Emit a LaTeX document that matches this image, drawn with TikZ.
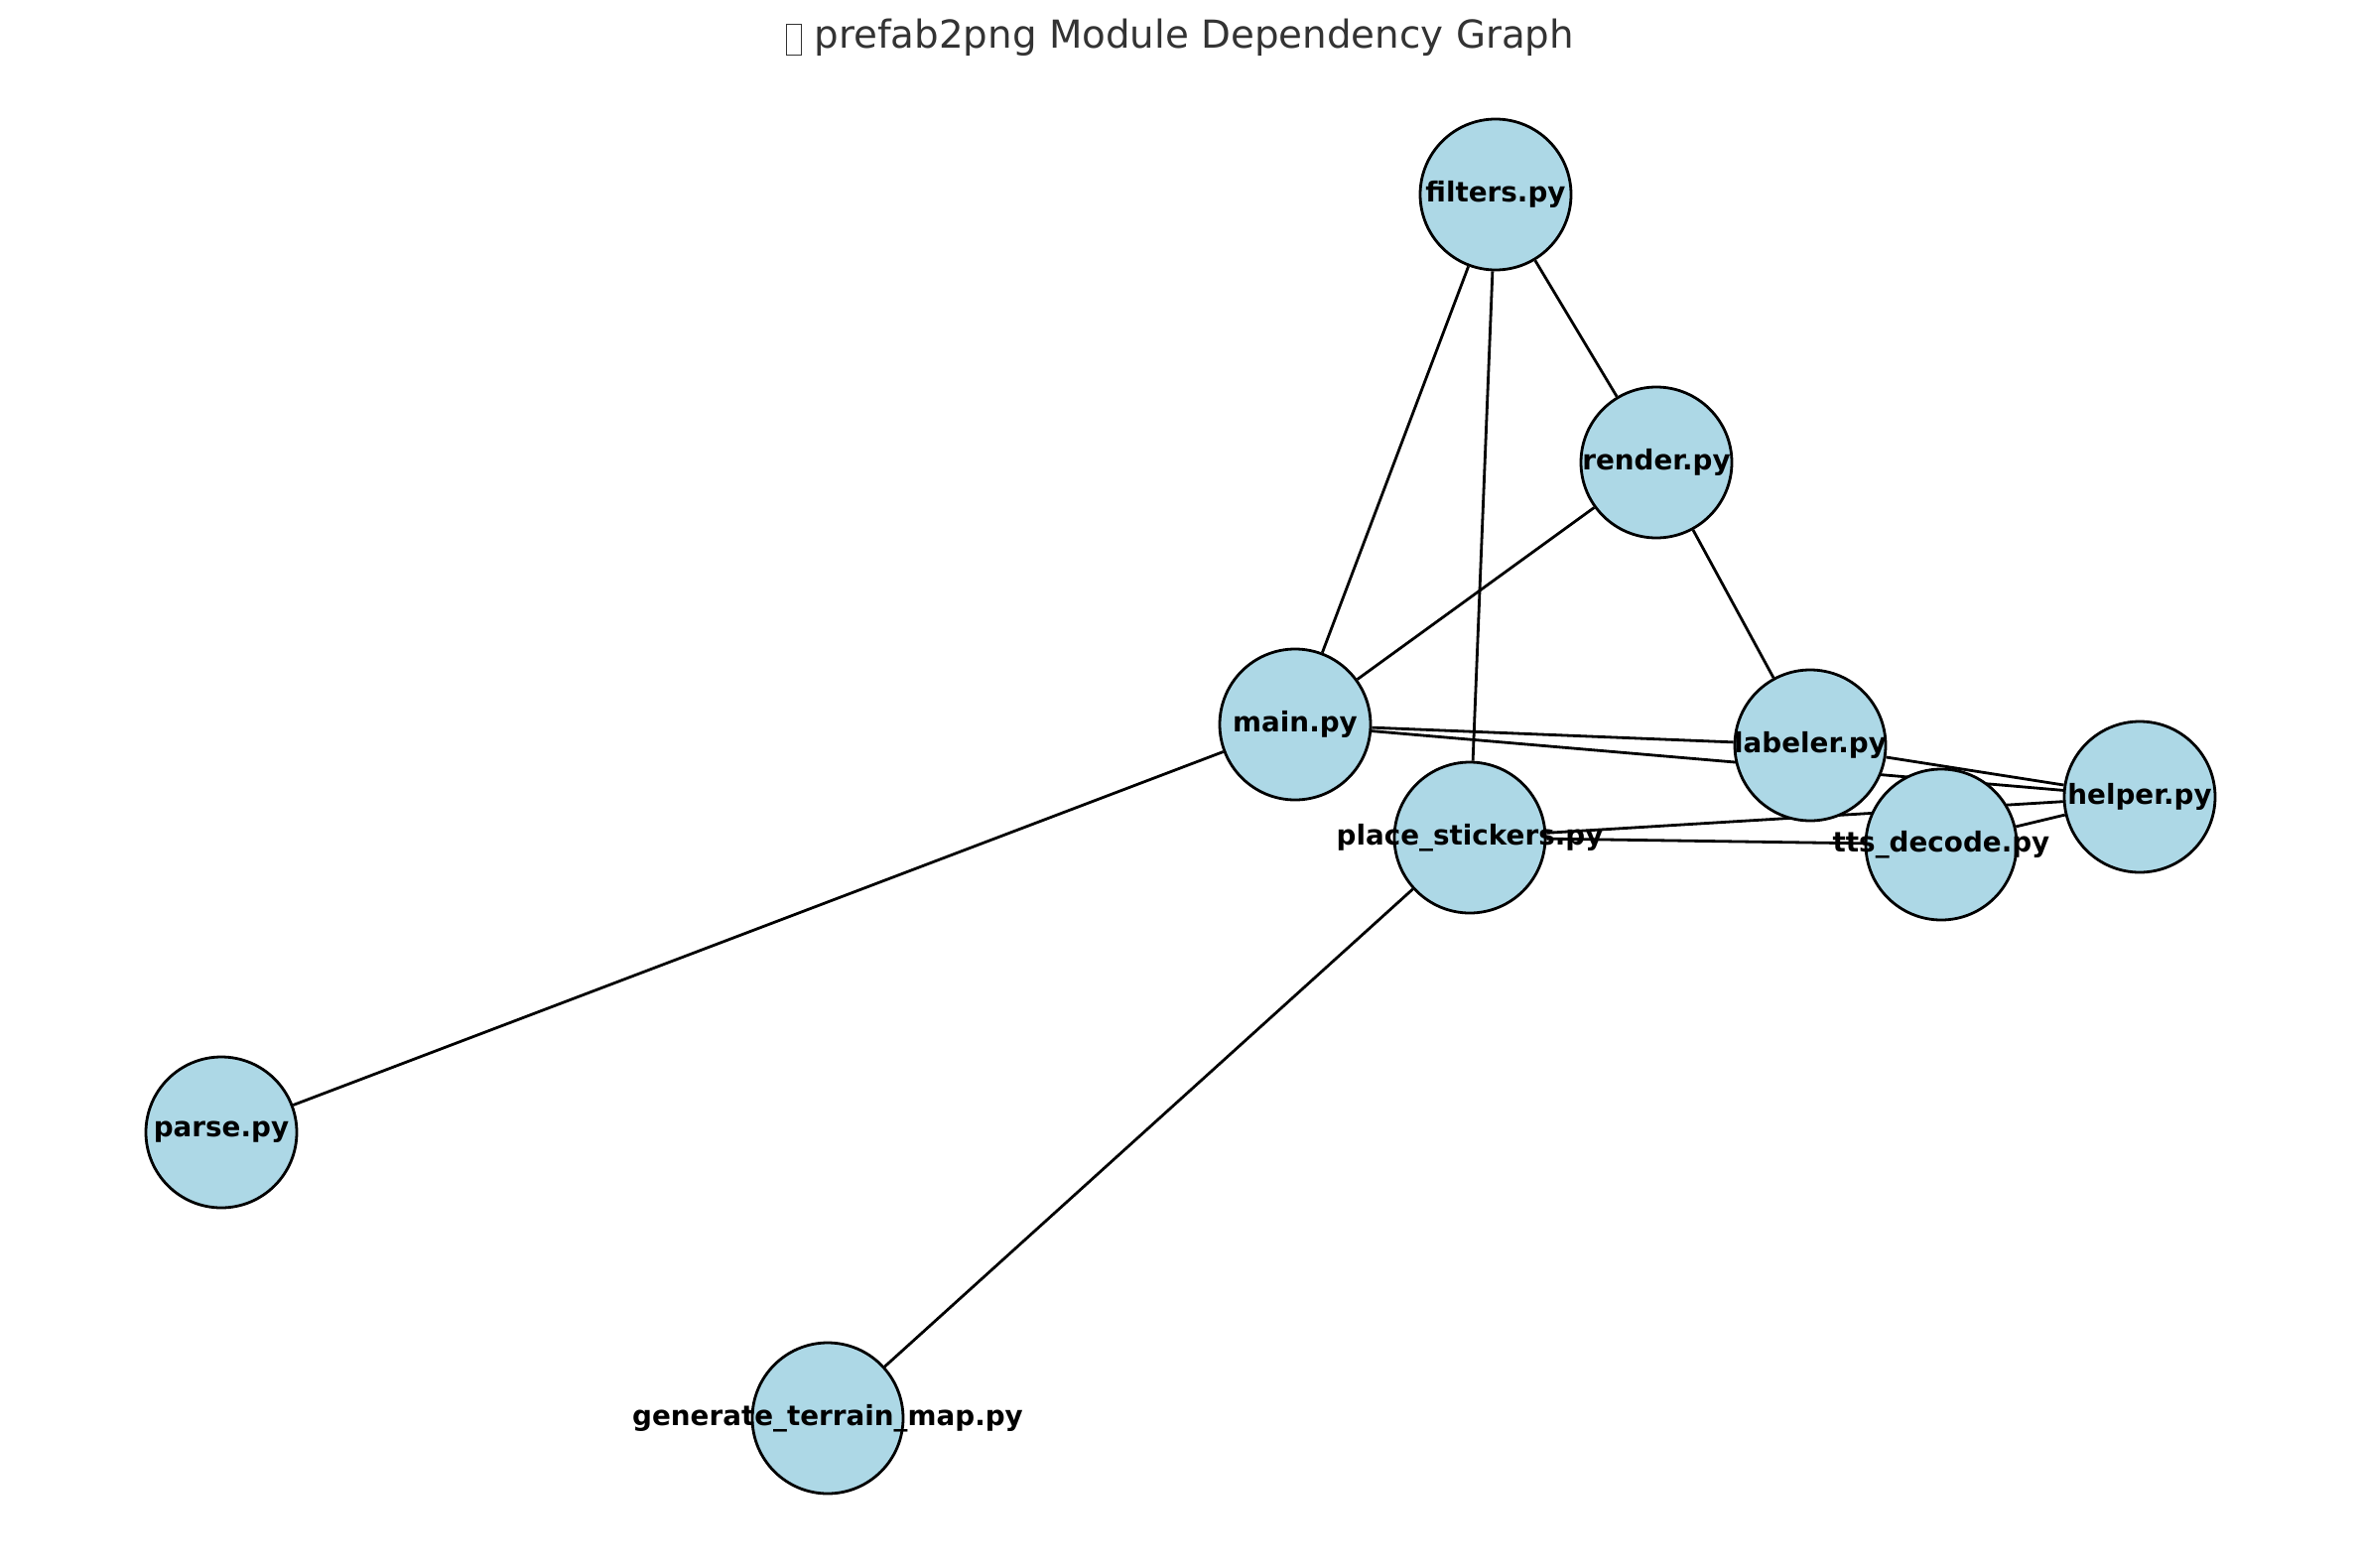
\documentclass[tikz,border=0pt]{standalone}
\usepackage{fontspec}
\newfontfamily\dejavu{DejaVu Sans}
\usetikzlibrary{backgrounds}
\definecolor{nodefill}{HTML}{ADD8E6}
\definecolor{titlegray}{HTML}{333333}
\begin{document}
\begin{tikzpicture}[x=0.5pt,y=-0.5pt,
  mod/.style={circle,draw=black,line width=1.4pt,fill=nodefill,minimum size=76pt,inner sep=0pt},
  modlabel/.style={font=\dejavu\bfseries\fontsize{13.9}{15}\selectfont,text=black},
  edge/.style={draw=black,line width=1.4pt}]
\useasboundingbox (0,0) rectangle (2379,1580);
\node[mod] (filters) at (1507,196) {};
\node[mod] (render) at (1669,466) {};
\node[mod] (main) at (1305,730) {};
\node[mod] (labeler) at (1824,751) {};
\node[mod] (helper) at (2156,803) {};
\node[mod] (tts) at (1956,851) {};
\node[mod] (place) at (1481,844) {};
\node[mod] (parse) at (223,1141) {};
\node[mod] (gen) at (834,1429) {};
\begin{scope}[on background layer]
\draw[edge] (filters) -- (main);
\draw[edge] (filters) -- (place);
\draw[edge] (filters) -- (render);
\draw[edge] (render) -- (main);
\draw[edge] (render) -- (labeler);
\draw[edge] (main) -- (labeler);
\draw[edge] (main) -- (helper);
\draw[edge] (main) -- (parse);
\draw[edge] (place) -- (gen);
\draw[edge] (place) -- (tts);
\draw[edge] (place) -- (helper);
\draw[edge] (labeler) -- (helper);
\draw[edge] (tts) -- (helper);
\end{scope}
\node[modlabel] (lfilters) at (filters.center) {filters.py};
\node[modlabel] (lrender) at (render.center) {render.py};
\node[modlabel] (lmain) at (main.center) {main.py};
\node[modlabel] (llabeler) at (labeler.center) {labeler.py};
\node[modlabel] (lhelper) at (helper.center) {helper.py};
\node[modlabel] (ltts) at (tts.center) {tts\_decode.py};
\node[modlabel] (lplace) at (place.center) {place\_stickers.py};
\node[modlabel] (lparse) at (parse.center) {parse.py};
\node[modlabel] (lgen) at (gen.center) {generate\_terrain\_map.py};
\node[font=\dejavu\fontsize{19.4}{22}\selectfont,text=titlegray,anchor=center] (title) at (1189,38)
  {\tikz[baseline=0pt]\draw[titlegray,line width=0.6pt] (0,-3.5pt) rectangle (7.5pt,12pt);\ prefab2png Module Dependency Graph};
\end{tikzpicture}
\end{document}
